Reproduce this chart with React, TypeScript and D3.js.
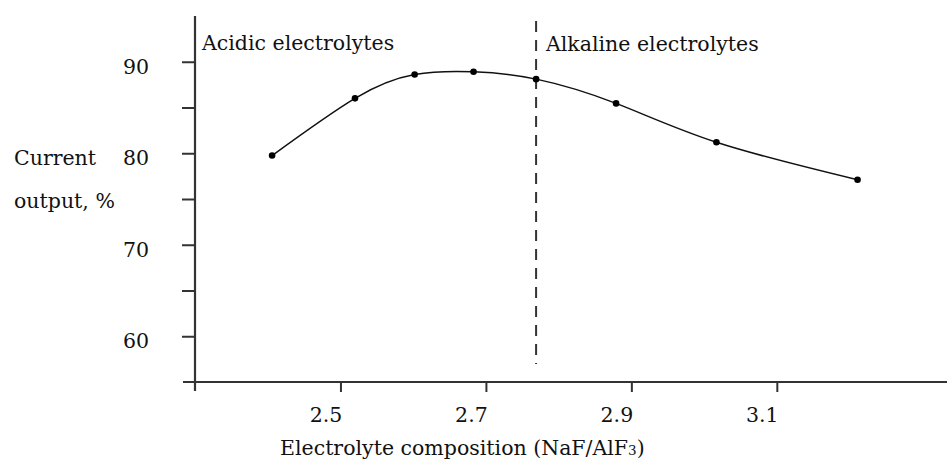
import React, { useRef, useEffect } from 'react';
import * as d3 from 'd3';

// NaF/AlF3 ratio vs current output (%)
const composition = [2.406, 2.52, 2.602, 2.683, 2.769, 2.879, 3.017, 3.211];
const currentOutput = [79.75, 86.0, 88.6, 88.9, 88.1, 85.45, 81.2, 77.1];
const xTicks = [2.5, 2.7, 2.9, 3.1];
const yTicks = [60, 65, 70, 75, 80, 85, 90];
const yLabelled = [60, 70, 80, 90];
const boundary = 2.769;

const W = 947;
const H = 460;
const FONT = '"DejaVu Serif", serif';
const FS = 20.5;
const AXIS = '#333';

function App() {
  const ref = useRef<SVGSVGElement>(null);

  useEffect(() => {
    const svg = d3.select(ref.current);
    svg.selectAll('*').remove();

    const x = d3.scaleLinear().domain([2.3, 3.334]).range([195, W]);
    const y = d3.scaleLinear().domain([55, 95]).range([382, 16]);

    svg.attr('font-family', FONT);

    // y axis
    const yAxis = svg.append('g')
      .attr('transform', `translate(${x(2.3)},0)`)
      .call(d3.axisLeft(y).tickValues(yTicks).tickSize(13).tickSizeOuter(0).tickPadding(33)
        .tickFormat(d => (yLabelled.includes(d as number) ? String(d) : '')));
    yAxis.select('.domain').remove();
    yAxis.selectAll('line').attr('stroke', AXIS).attr('stroke-width', 2);
    yAxis.selectAll('text').attr('font-size', FS).attr('font-family', FONT)
      .attr('fill', '#111').attr('dy', '0.55em');

    // x axis
    const xAxis = svg.append('g')
      .attr('transform', `translate(0,${y(55)})`)
      .call(d3.axisBottom(x).tickValues(xTicks).tickSize(10).tickSizeOuter(0)
        .tickFormat(d3.format('.1f')));
    xAxis.select('.domain').remove();
    xAxis.selectAll('line').attr('stroke', AXIS).attr('stroke-width', 2);
    xAxis.selectAll('text').attr('font-size', FS).attr('font-family', FONT)
      .attr('fill', '#111').attr('y', 40).attr('dy', 0).attr('dx', -15);

    // axis lines crossing at the origin
    svg.append('line')
      .attr('x1', x(2.3)).attr('x2', x(2.3))
      .attr('y1', y(95)).attr('y2', y(55) + 9)
      .attr('stroke', AXIS).attr('stroke-width', 2.2);
    svg.append('line')
      .attr('x1', x(2.3) - 12).attr('x2', W)
      .attr('y1', y(55)).attr('y2', y(55))
      .attr('stroke', AXIS).attr('stroke-width', 2.2);

    // boundary between acidic and alkaline
    svg.append('line')
      .attr('x1', x(boundary)).attr('x2', x(boundary))
      .attr('y1', 21).attr('y2', 364)
      .attr('stroke', AXIS).attr('stroke-width', 2)
      .attr('stroke-dasharray', '11,8');

    const pts = composition.map((c, i) => [c, currentOutput[i]] as [number, number]);

    const line = d3.line<[number, number]>()
      .x(d => x(d[0]))
      .y(d => y(d[1]))
      .curve(d3.curveNatural);

    svg.append('path')
      .datum(pts)
      .attr('fill', 'none')
      .attr('stroke', '#111')
      .attr('stroke-width', 1.5)
      .attr('d', line);

    svg.selectAll('circle.pt')
      .data(pts)
      .join('circle')
      .attr('class', 'pt')
      .attr('cx', d => x(d[0]))
      .attr('cy', d => y(d[1]))
      .attr('r', 3.3)
      .attr('fill', '#000');

    const label = (t: string, lx: number, ly: number) =>
      svg.append('text').attr('x', lx).attr('y', ly)
        .attr('font-size', FS).attr('fill', '#111').text(t);

    label('Acidic electrolytes', 202, 50);
    label('Alkaline electrolytes', 546, 51);
    label('Current', 14, 165);
    label('output, %', 14, 208);

    const title = svg.append('text').attr('x', 280).attr('y', 455)
      .attr('font-size', FS).attr('fill', '#111');
    title.append('tspan').text('Electrolyte composition (NaF/AlF');
    title.append('tspan').attr('font-size', 13.5).text('3');
    title.append('tspan').text(')');
  }, []);

  return (
    <svg ref={ref} width={W} height={H}
      style={{ position: 'absolute', left: 0, top: 0, background: '#fff' }} />
  );
}

export default App;
